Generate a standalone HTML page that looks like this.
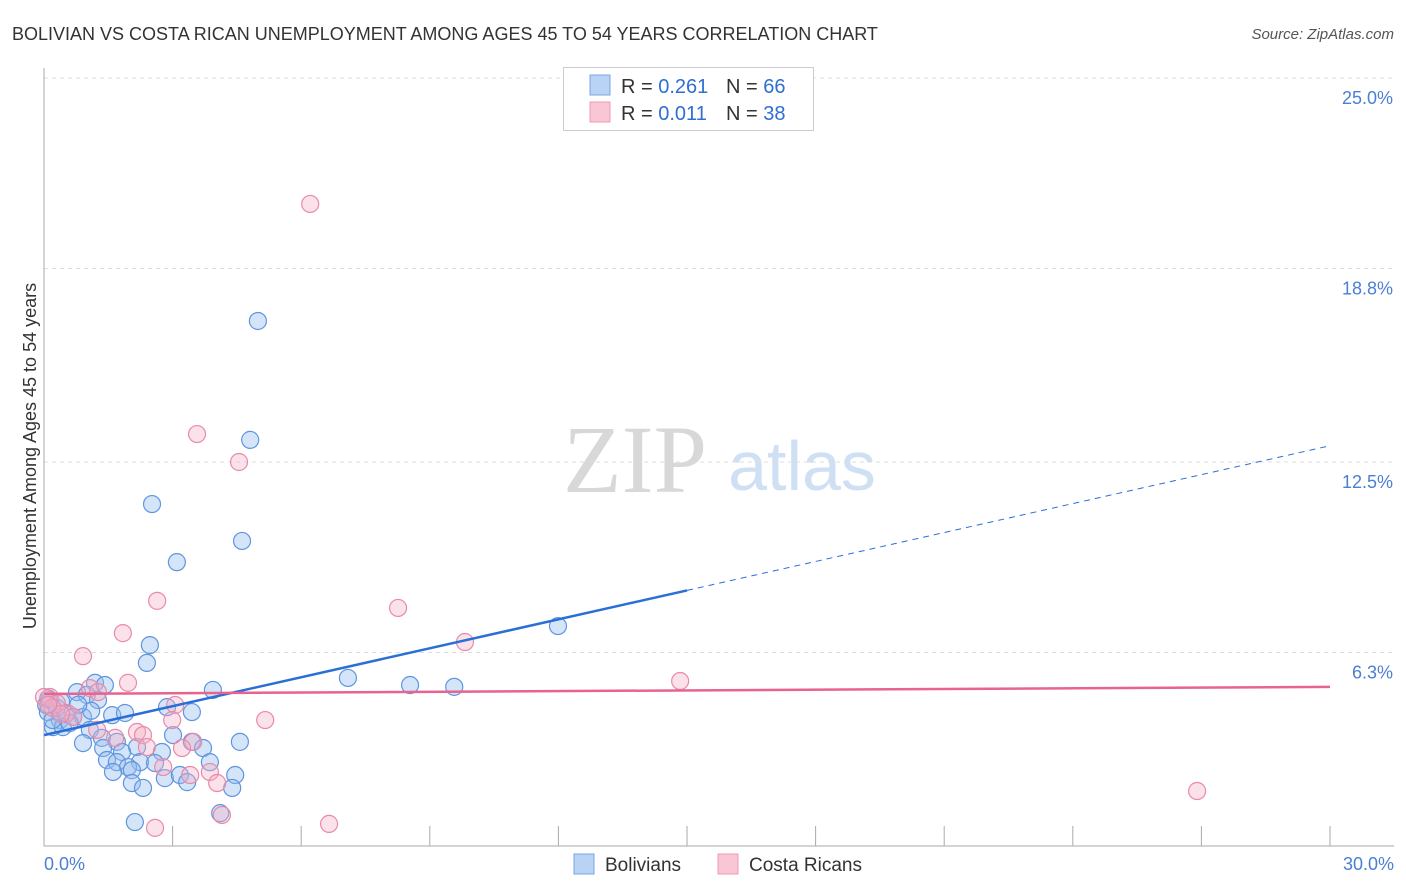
<!DOCTYPE html>
<html><head><meta charset="utf-8"><style>
body{margin:0;background:#fff;font-family:"Liberation Sans",sans-serif;}
#wrap{position:relative;width:1406px;height:892px;overflow:hidden;}
</style></head><body>
<div id="wrap">
<svg id="svg" width="1406" height="892" xmlns="http://www.w3.org/2000/svg">
<text x="12" y="40" font-size="18" fill="#333">BOLIVIAN VS COSTA RICAN UNEMPLOYMENT AMONG AGES 45 TO 54 YEARS CORRELATION CHART</text>
<text x="1394" y="39" font-size="15" font-style="italic" fill="#555" text-anchor="end">Source: ZipAtlas.com</text>
<text x="635" y="492" font-size="96" font-family="Liberation Serif,serif" fill="#d8d8d8" text-anchor="middle">ZIP</text>
<text x="802" y="490" font-size="70" fill="#cfe0f5" text-anchor="middle">atlas</text>
<g id="grid"></g><g id="axes"></g><g id="pts"></g><g id="lines"></g>
<text x="36" y="456" font-size="18" fill="#333" text-anchor="middle" transform="rotate(-90 36 456)">Unemployment Among Ages 45 to 54 years</text>
<text x="44" y="870" font-size="18" fill="#4a7fd4">0.0%</text>
<text x="1394" y="870" font-size="18" fill="#4a7fd4" text-anchor="end">30.0%</text>
<g>
<rect x="563.5" y="67.5" width="250" height="63" fill="#fff" stroke="#ccc"/>
<rect x="590" y="75" width="20" height="20" fill="#b8d3f5" stroke="#7aa6e0"/>
<rect x="590" y="102" width="20" height="20" fill="#fac6d6" stroke="#ee9ab4"/>
<text x="621" y="93" font-size="20" fill="#333">R = <tspan fill="#2e6fd3">0.261</tspan></text>
<text x="726" y="93" font-size="20" fill="#333">N = <tspan fill="#2e6fd3">66</tspan></text>
<text x="621" y="120" font-size="20" fill="#333">R = <tspan fill="#2e6fd3">0.011</tspan></text>
<text x="726" y="120" font-size="20" fill="#333">N = <tspan fill="#2e6fd3">38</tspan></text>
</g>
<g>
<rect x="574" y="854" width="20" height="20" fill="#b8d3f5" stroke="#7aa6e0"/>
<text x="605" y="871" font-size="19" fill="#333">Bolivians</text>
<text x="749" y="871" font-size="19" fill="#333">Costa Ricans</text>
<rect x="718" y="854" width="20" height="20" fill="#fac6d6" stroke="#ee9ab4"/>
</g>
</svg>
</div>
<script>
const yTicks=[6.3,12.5,18.8,25.0];
const yTickLabels=["6.3%","12.5%","18.8%","25.0%"];
const xTicks=[0,3,6,9,12,15,18,21,24,27,30];
const bolX=[2.47,2.40,0.77,1.19,1.42,1.00,1.26,0.14,3.94,2.87,3.45,1.59,1.89,0.68,0.37,0.91,0.21,1.07,0.44,3.01,0.91,1.35,1.70,2.17,3.45,4.57,3.71,1.38,1.82,2.75,1.47,1.70,2.24,1.96,2.59,3.87,1.61,2.05,2.82,3.17,3.34,4.46,2.05,2.31,4.39,4.11,2.12,4.99,4.81,2.52,4.62,3.10,11.99,7.09,8.54,9.57,0.05,0.09,0.3,0.5,0.6,0.2,1.1,0.8,0.1,0.4];
const bolY=[6.54,5.96,5.01,5.31,5.24,4.92,4.75,4.75,5.08,4.52,4.36,4.26,4.33,4.20,4.10,4.20,3.87,3.78,3.87,3.61,3.35,3.52,3.39,3.22,3.39,3.39,3.19,3.19,3.06,3.06,2.80,2.73,2.73,2.57,2.70,2.73,2.41,2.47,2.21,2.31,2.08,2.31,2.05,1.89,1.89,1.07,0.78,17.09,13.22,11.13,9.93,9.24,7.16,5.47,5.24,5.18,4.59,4.36,4.5,4.3,4.0,4.1,4.4,4.6,4.8,4.7];
const crX=[1.84,0.91,1.96,0.14,0.30,1.07,1.26,3.06,2.99,0.54,0.68,2.17,2.31,1.66,3.48,3.22,2.40,2.78,3.41,3.87,4.04,4.15,2.59,5.16,1.24,6.21,3.57,4.55,2.64,8.26,9.82,14.84,26.9,6.65,0.0,0.2,0.4,0.1];
const crY=[6.93,6.18,5.31,4.85,4.65,5.14,5.01,4.59,4.10,4.33,4.20,3.71,3.61,3.52,3.39,3.19,3.22,2.57,2.31,2.41,2.05,1.01,0.59,4.10,3.78,20.90,13.41,12.50,7.98,7.75,6.64,5.37,1.79,0.72,4.85,4.5,4.3,4.6];
const bolTrend=[3.61,13.03]; // y at x=0 and x=30
const crTrend=[4.95,5.18];
const X0=44,X1=1330,Y0=846,Y25=78;
const sx=v=>X0+(v/30)*(X1-X0);
const sy=v=>Y0-(v/25)*(Y0-Y25);
const NS="http://www.w3.org/2000/svg";
function mk(tag,attrs,parent){const e=document.createElementNS(NS,tag);for(const k in attrs)e.setAttribute(k,attrs[k]);parent.appendChild(e);return e;}
const grid=document.getElementById('grid'),axes=document.getElementById('axes'),pts=document.getElementById('pts'),lines=document.getElementById('lines');
yTicks.forEach((t,i)=>{
  const y=(i==3)?Y25:sy(t);
  const l=mk('line',{x1:X0,x2:1394,y1:y,y2:y,stroke:'#ddd','stroke-dasharray':'4 4'},grid);
  
  
  const tx=mk('text',{x:1393,y:y+26,'font-size':18,fill:'#4a7fd4','text-anchor':'end'},grid);
  tx.textContent=yTickLabels[i];
  
  
});
const ya=mk('line',{x1:X0,x2:X0,y1:68,y2:Y0,stroke:'#aaa'},axes);


const xa=mk('line',{x1:X0,x2:1394,y1:Y0,y2:Y0,stroke:'#aaa'},axes);


xTicks.forEach(t=>{
  const l=mk('line',{x1:sx(t),x2:sx(t),y1:826,y2:Y0,stroke:'#aaa'},axes);
  
  
});
bolX.forEach((v,i)=>{
  const c=mk('circle',{cx:sx(v),cy:sy(bolY[i]),r:8.5,fill:'rgba(150,190,240,0.4)',stroke:'#5f95de','stroke-width':1.2},pts);
  
  
});
crX.forEach((v,i)=>{
  const c=mk('circle',{cx:sx(v),cy:sy(crY[i]),r:8.5,fill:'rgba(245,175,198,0.38)',stroke:'#e98aab','stroke-width':1.2},pts);
  
  
});
const bAt=x=>bolTrend[0]+(bolTrend[1]-bolTrend[0])*x/30;
const b1=mk('line',{x1:sx(0),y1:sy(bAt(0)),x2:sx(15),y2:sy(bAt(15)),stroke:'#2a6fd6','stroke-width':2.5},lines);


const b2=mk('line',{x1:sx(15),y1:sy(bAt(15)),x2:sx(30),y2:sy(bAt(30)),stroke:'#2a6fd6','stroke-width':1,'stroke-dasharray':'6 5'},lines);


const p1=mk('line',{x1:sx(0),y1:sy(crTrend[0]),x2:sx(30),y2:sy(crTrend[1]),stroke:'#e8638f','stroke-width':2.5},lines);


</script>
</body></html>
